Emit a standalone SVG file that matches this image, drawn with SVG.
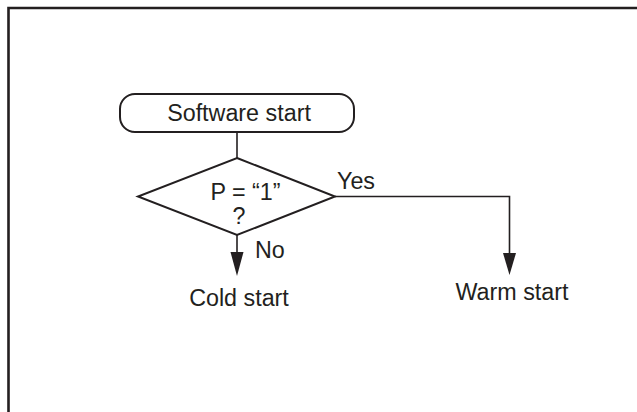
<svg xmlns="http://www.w3.org/2000/svg" width="637" height="412" viewBox="0 0 637 412">
<style>
.t{font-family:"Liberation Sans",Arial,sans-serif;font-size:23.3px;fill:#231f20}
.s{fill:none;stroke:#231f20;stroke-width:2}
.c{fill:none;stroke:#231f20;stroke-width:1.6}
.h{fill:#231f20;stroke:none}
</style>
<rect width="637" height="412" fill="#fff"/>
<g id="frame">
<path d="M8.5,412 V8 H637" fill="none" stroke="#231f20" stroke-width="2.6"/>
</g>
<g id="connectors">
<path class="c" d="M237,132 V158"/>
<path class="c" d="M237,235 V253"/>
<polygon class="h" points="230.5,252 243.5,252 237,276"/>
<path class="c" d="M335,196.5 H509.5 V254"/>
<polygon class="h" points="503,253 516,253 509.5,275"/>
<text class="t" x="337" y="189">Yes</text>
<text class="t" x="255" y="258">No</text>
</g>
<g id="start">
<rect class="s" x="120" y="94" width="234" height="38" rx="15" ry="15"/>
<text class="t" x="239" y="121" text-anchor="middle">Software start</text>
</g>
<g id="decision">
<polygon class="s" points="237,158 335,196.5 237,235 138,196.5"/>
<text class="t" x="245.5" y="200" text-anchor="middle">P = “1”</text>
<text class="t" x="239" y="224" text-anchor="middle">?</text>
</g>
<g id="cold">
<text class="t" x="239" y="306" text-anchor="middle">Cold start</text>
</g>
<g id="warm">
<text class="t" x="512" y="300" text-anchor="middle">Warm start</text>
</g>
</svg>
